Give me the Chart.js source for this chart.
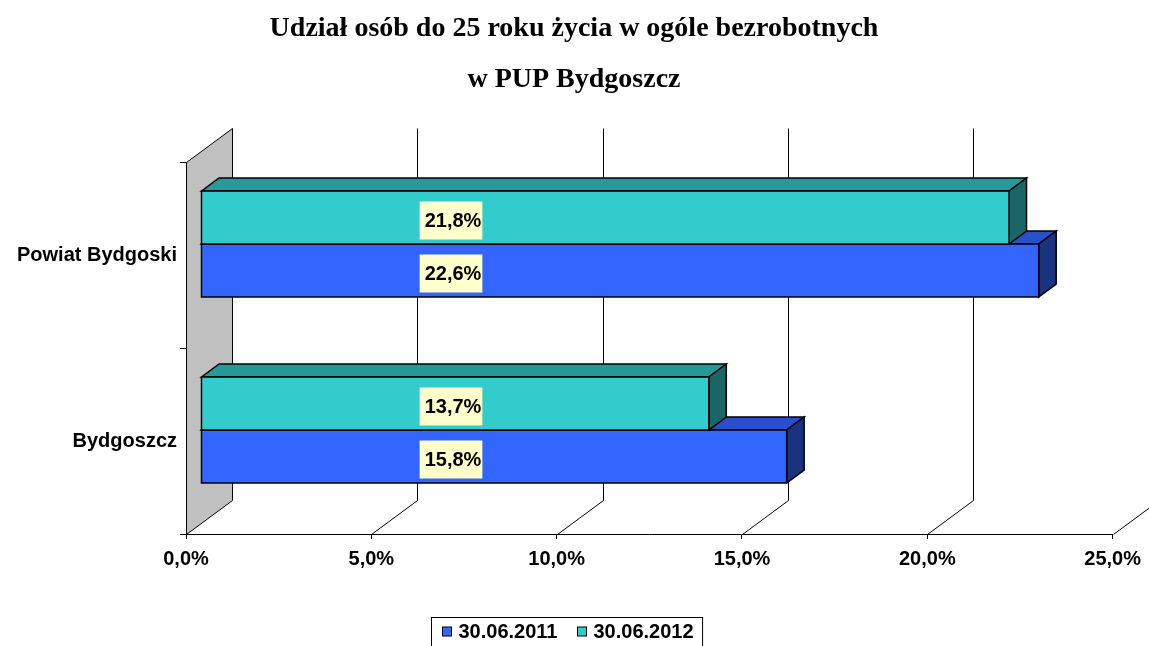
<!DOCTYPE html>
<html><head><meta charset="utf-8">
<script src="https://cdn.jsdelivr.net/npm/chart.js@4.4.1/dist/chart.umd.min.js"></script>
<style>html,body{margin:0;padding:0;background:#fff;}canvas{display:block;}</style>
</head><body>
<canvas id="c" width="1149" height="646"></canvas>
<script>
// ---- data ----
const categories = ['Powiat Bydgoski', 'Bydgoszcz'];
const seriesNames = ['30.06.2011', '30.06.2012'];
const values2011 = [22.6, 15.8];
const values2012 = [21.8, 13.7];
const xTickValues = [0, 5, 10, 15, 20, 25];
const titleLines = ['Udział osób do 25 roku życia w ogóle bezrobotnych', 'w PUP Bydgoszcz'];

// ---- styles ----
const SANS = 'Liberation Sans, Arial, sans-serif';
const SERIF = 'Liberation Serif, Times New Roman, serif';
const WALL = {dx: 46, dy: -34};
const BAR_OFF = {dx: 15, dy: -11};
const BAR_DEPTH = {dx: 17.5, dy: -13};
const LABEL_X = 451;
const TITLE_X = 574, TITLE_Y = [29, 80];
const pal2011 = {front: '#3366FF', top: '#2850CC', side: '#1A3380'};
const pal2012 = {front: '#33CCCC', top: '#269999', side: '#1A6666'};

const fmt = v => Number(v).toFixed(1).replace('.', ',') + '%';

const threeD = {
  id: 'threeD',
  beforeDatasetsDraw(chart) {
    const {ctx, chartArea: a, scales: {x}} = chart;
    ctx.save();
    ctx.lineJoin = 'miter';
    // left wall
    const L = Math.round(a.left) + 0.5, T = Math.round(a.top) + 0.5, B = Math.round(a.bottom) + 0.5;
    ctx.beginPath();
    ctx.moveTo(L, T); ctx.lineTo(L + WALL.dx, T + WALL.dy);
    ctx.lineTo(L + WALL.dx, B + WALL.dy); ctx.lineTo(L, B); ctx.closePath();
    ctx.fillStyle = '#C0C0C0'; ctx.fill();
    ctx.strokeStyle = '#000'; ctx.lineWidth = 1; ctx.stroke();
    // gridlines on back wall + floor
    ctx.beginPath();
    xTickValues.forEach(v => {
      if (v === 0) return;
      const px = Math.round(x.getPixelForValue(v)) + 0.5;
      ctx.moveTo(px + WALL.dx, T + WALL.dy);
      ctx.lineTo(px + WALL.dx, B + WALL.dy);
      ctx.lineTo(px, B);
    });
    ctx.strokeStyle = '#000'; ctx.lineWidth = 1; ctx.stroke();

    // bars (lower series first)
    ctx.lineWidth = 1.5; ctx.strokeStyle = '#000';
    [1, 0].forEach(di => {
      const ds = chart.data.datasets[di];
      const pal = ds.pal;
      chart.getDatasetMeta(di).data.forEach(el => {
        const p = el.getProps(['x', 'y', 'base', 'height'], true);
        const x0 = p.base + BAR_OFF.dx, x1 = p.x + BAR_OFF.dx;
        const y0 = p.y - p.height / 2 + BAR_OFF.dy, y1 = p.y + p.height / 2 + BAR_OFF.dy;
        const dx = BAR_DEPTH.dx, dy = BAR_DEPTH.dy;
        ctx.beginPath();
        ctx.moveTo(x0, y0); ctx.lineTo(x0 + dx, y0 + dy); ctx.lineTo(x1 + dx, y0 + dy); ctx.lineTo(x1, y0); ctx.closePath();
        ctx.fillStyle = pal.top; ctx.fill(); ctx.stroke();
        ctx.beginPath();
        ctx.moveTo(x1, y0); ctx.lineTo(x1 + dx, y0 + dy); ctx.lineTo(x1 + dx, y1 + dy); ctx.lineTo(x1, y1); ctx.closePath();
        ctx.fillStyle = pal.side; ctx.fill(); ctx.stroke();
        ctx.beginPath();
        ctx.rect(x0, y0, x1 - x0, y1 - y0);
        ctx.fillStyle = pal.front; ctx.fill(); ctx.stroke();
      });
    });

    // data labels
    ctx.font = 'bold 20px ' + SANS;
    ctx.textAlign = 'center'; ctx.textBaseline = 'middle';
    [0, 1].forEach(di => {
      const ds = chart.data.datasets[di];
      chart.getDatasetMeta(di).data.forEach((el, i) => {
        const p = el.getProps(['y'], true);
        const txt = fmt(ds.data[i]);
        const w = ctx.measureText(txt).width + 6, h = 38;
        const cy = p.y + BAR_OFF.dy + 3;
        ctx.fillStyle = '#FFFFCC';
        ctx.fillRect(LABEL_X - w / 2, cy - h / 2, w, h);
        ctx.fillStyle = '#000';
        ctx.fillText(txt, LABEL_X + 2, cy + 1);
      });
    });

    // legend (boxed)
    const items = [chart.data.datasets[1], chart.data.datasets[0]];
    ctx.font = 'bold 20px ' + SANS;
    ctx.textAlign = 'left';
    const widths = items.map(d => ctx.measureText(d.label).width);
    const total = 11 + widths.reduce((s, w) => s + 9 + 7 + w, 0) + 20 * (items.length - 1) + 9;
    const bx = Math.round(567 - total / 2) + 0.5, by = 617.5;
    ctx.lineWidth = 1; ctx.strokeStyle = '#000';
    ctx.strokeRect(bx, by, total, 31);
    let cx = bx + 11;
    const my = 631.5;
    items.forEach((d, k) => {
      ctx.fillStyle = d.pal.front;
      ctx.fillRect(cx, my - 4.5, 9, 9);
      ctx.strokeRect(cx, my - 4.5, 9, 9);
      ctx.fillStyle = '#000';
      ctx.fillText(d.label, cx + 16, my + 1);
      cx += 16 + widths[k] + 20;
    });

    // title
    ctx.font = 'bold 28px ' + SERIF;
    ctx.textAlign = 'center'; ctx.textBaseline = 'middle';
    titleLines.forEach((t, k) => ctx.fillText(t, TITLE_X, TITLE_Y[k]));
    ctx.restore();
    return false;
  }
};

new Chart(document.getElementById('c'), {
  type: 'bar',
  data: {
    labels: categories,
    datasets: [
      {label: seriesNames[1], data: values2012, backgroundColor: pal2012.front, pal: pal2012},
      {label: seriesNames[0], data: values2011, backgroundColor: pal2011.front, pal: pal2011}
    ]
  },
  options: {
    responsive: false,
    animation: false,
    devicePixelRatio: 1,
    indexAxis: 'y',
    categoryPercentage: 0.57,
    barPercentage: 1,
    layout: {padding: {left: 0, right: 33, top: 162, bottom: 0}},
    plugins: {
      legend: {display: false},
      tooltip: {enabled: false},
      title: {display: false}
    },
    scales: {
      x: {
        type: 'linear', min: 0, max: 25,
        afterBuildTicks: s => { s.ticks = xTickValues.map(v => ({value: v})); },
        afterFit: s => { s.height = 112; },
        ticks: {callback: v => fmt(v), color: '#000', font: {family: SANS, size: 20, weight: 'bold'}, padding: 8, maxRotation: 0, autoSkip: false},
        grid: {drawOnChartArea: false, drawTicks: true, tickLength: 5, color: '#000'},
        border: {display: true, color: '#000', width: 1}
      },
      y: {
        afterFit: s => { s.width = 186; },
        ticks: {color: '#000', font: {family: SANS, size: 20, weight: 'bold'}, padding: 3},
        grid: {drawOnChartArea: false, drawTicks: true, tickLength: 6, offset: true, color: '#000'},
        border: {display: true, color: '#000', width: 1}
      }
    }
  },
  plugins: [threeD]
});
</script>
</body></html>
